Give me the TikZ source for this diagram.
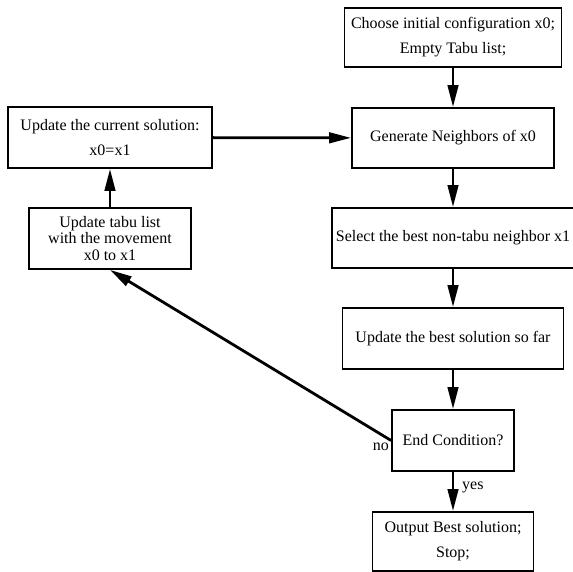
\documentclass[tikz,border=0pt]{standalone}
\usepackage{fontspec}
\setmainfont{Liberation Serif}
\usetikzlibrary{arrows.meta}
\begin{document}
\begin{tikzpicture}[x=1pt,y=-1pt,
  box/.style={draw, line width=1.8pt, inner sep=0pt, align=center,
    font=\fontsize{16}{25}\selectfont},
  tightbox/.style={box, font=\fontsize{16}{16.5}\selectfont},
  flow/.style={line width=2.8pt, -{Triangle[length=22pt,width=10.5pt]}},
  lbl/.style={inner sep=0pt, font=\fontsize{16}{19}\selectfont}]
\useasboundingbox (0,0) rectangle (572,572);

% main column
\node[box, minimum width=217pt, minimum height=59pt] (init) at (453,37.5)
  {Choose initial configuration x0;\\Empty Tabu list;};
\node[box, minimum width=202pt, minimum height=60pt] (gen) at (453,138)
  {Generate Neighbors of x0};
\node[box, minimum width=242pt, minimum height=60pt] (sel) at (453,238)
  {Select the best non-tabu neighbor x1};
\node[box, minimum width=221pt, minimum height=61pt] (best) at (453,338.5)
  {Update the best solution so far};
\node[box, minimum width=122pt, minimum height=61pt] (endc) at (453,440.5)
  {End Condition?};
\node[box, minimum width=161pt, minimum height=59pt] (out) at (453,541.5)
  {Output Best solution;\\Stop;};

% loop-back column
\node[box, minimum width=204pt, minimum height=61pt] (cur) at (110,137.5)
  {Update the current solution:\\x0=x1};
\node[tightbox, minimum width=162pt, minimum height=61pt] (tabu) at (110,238.5)
  {Update tabu list\\with the movement\\x0 to x1};

% connectors
\draw[flow] (init) -- (gen);
\draw[flow] (gen) -- (sel);
\draw[flow] (sel) -- (best);
\draw[flow] (best) -- (endc);
\draw[flow] (endc) -- (out);
\draw[flow] (endc.west) -- (tabu.south);
\draw[flow] (tabu) -- (cur);
\draw[flow] (cur) -- (gen);

% branch labels
\node[lbl, anchor=west] (yes) at (462,487) {yes};
\node[lbl, anchor=east] (no) at (389,447) {no};
\end{tikzpicture}
\end{document}
